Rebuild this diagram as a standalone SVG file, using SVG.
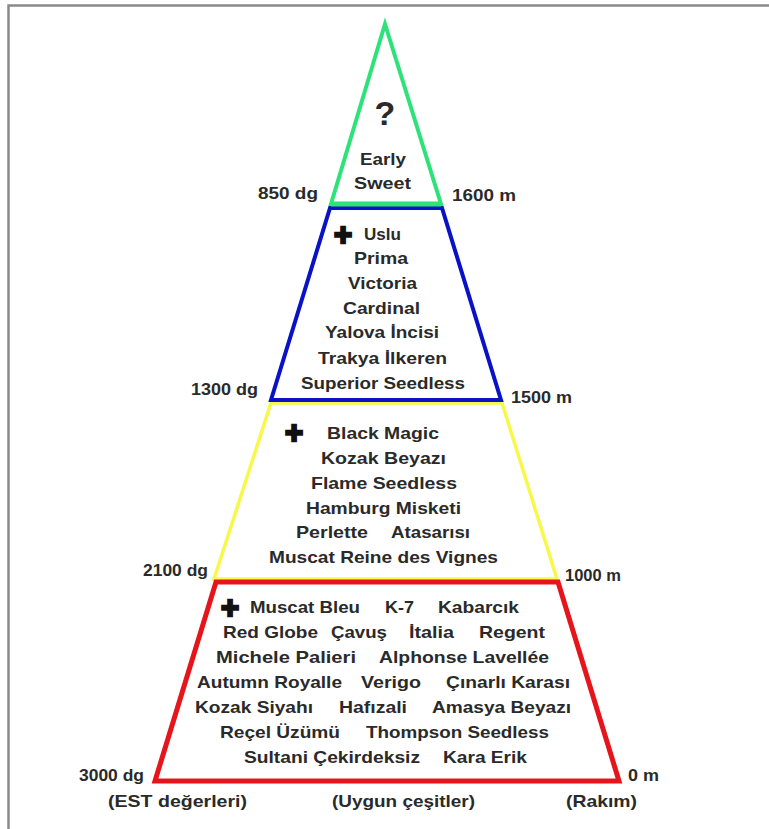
<svg xmlns="http://www.w3.org/2000/svg" width="769" height="829" viewBox="0 0 769 829">
<style>
.t{font-family:"Liberation Sans",Arial,sans-serif;font-weight:bold;font-size:17px;fill:#2a2a2a}
.p{font-family:"Liberation Sans",Arial,sans-serif;font-weight:bold;font-size:31px;fill:#111;stroke:#111;stroke-width:2.4}
.tier{fill:#fff;stroke-linejoin:miter}
</style>
<rect x="0" y="0" width="769" height="829" fill="#fff"/>
<g id="frame"><polyline points="8.5,829 8.5,5.5 769,5.5" fill="none" stroke="#8a8a8a" stroke-width="2.5"/></g>
<g id="connectors"/>

<g id="tier-yellow">
<polygon class="tier" points="271,403 502,403 557,579 214,579" stroke="#f8f84a" stroke-width="3.5"/>
<text class="p" x="285" y="443">+</text>
<text class="t" x="327" y="439" textLength="112" lengthAdjust="spacingAndGlyphs">Black Magic</text>
<text class="t" x="321" y="464" textLength="125" lengthAdjust="spacingAndGlyphs">Kozak Beyazı</text>
<text class="t" x="311" y="489" textLength="146" lengthAdjust="spacingAndGlyphs">Flame Seedless</text>
<text class="t" x="306" y="514" textLength="155" lengthAdjust="spacingAndGlyphs">Hamburg Misketi</text>
<text class="t" x="296" y="538" textLength="72" lengthAdjust="spacingAndGlyphs">Perlette</text>
<text class="t" x="391" y="538" textLength="79" lengthAdjust="spacingAndGlyphs">Atasarısı</text>
<text class="t" x="269" y="563" textLength="229" lengthAdjust="spacingAndGlyphs">Muscat Reine des Vignes</text>
<text class="t" x="143" y="576" textLength="65" lengthAdjust="spacingAndGlyphs">2100 dg</text>
<text class="t" x="565" y="581" textLength="56" lengthAdjust="spacingAndGlyphs">1000 m</text>
</g>

<g id="tier-red">
<polygon class="tier" points="216,582 558,582 619,781 155,781" stroke="#e5151b" stroke-width="5"/>
<text class="p" x="221" y="618">+</text>
<text class="t" x="250" y="613" textLength="110" lengthAdjust="spacingAndGlyphs">Muscat Bleu</text>
<text class="t" x="385" y="613" textLength="29" lengthAdjust="spacingAndGlyphs">K-7</text>
<text class="t" x="438" y="613" textLength="81" lengthAdjust="spacingAndGlyphs">Kabarcık</text>
<text class="t" x="223" y="638" textLength="95" lengthAdjust="spacingAndGlyphs">Red Globe</text>
<text class="t" x="331" y="638" textLength="56" lengthAdjust="spacingAndGlyphs">Çavuş</text>
<text class="t" x="409" y="638" textLength="45" lengthAdjust="spacingAndGlyphs">İtalia</text>
<text class="t" x="479" y="638" textLength="66" lengthAdjust="spacingAndGlyphs">Regent</text>
<text class="t" x="216" y="663" textLength="140" lengthAdjust="spacingAndGlyphs">Michele Palieri</text>
<text class="t" x="379" y="663" textLength="170" lengthAdjust="spacingAndGlyphs">Alphonse Lavellée</text>
<text class="t" x="197" y="688" textLength="145" lengthAdjust="spacingAndGlyphs">Autumn Royalle</text>
<text class="t" x="361" y="688" textLength="60" lengthAdjust="spacingAndGlyphs">Verigo</text>
<text class="t" x="446" y="688" textLength="124" lengthAdjust="spacingAndGlyphs">Çınarlı Karası</text>
<text class="t" x="195" y="713" textLength="118" lengthAdjust="spacingAndGlyphs">Kozak Siyahı</text>
<text class="t" x="339" y="713" textLength="68" lengthAdjust="spacingAndGlyphs">Hafızali</text>
<text class="t" x="432" y="713" textLength="139" lengthAdjust="spacingAndGlyphs">Amasya Beyazı</text>
<text class="t" x="220" y="738" textLength="120" lengthAdjust="spacingAndGlyphs">Reçel Üzümü</text>
<text class="t" x="366" y="738" textLength="183" lengthAdjust="spacingAndGlyphs">Thompson Seedless</text>
<text class="t" x="244" y="763" textLength="176" lengthAdjust="spacingAndGlyphs">Sultani Çekirdeksiz</text>
<text class="t" x="443" y="763" textLength="84" lengthAdjust="spacingAndGlyphs">Kara Erik</text>
<text class="t" x="79" y="781" textLength="65" lengthAdjust="spacingAndGlyphs">3000 dg</text>
<text class="t" x="628" y="781" textLength="31" lengthAdjust="spacingAndGlyphs">0 m</text>
</g>

<g id="tier-blue">
<polygon class="tier" points="330,208 442,208 501,400 271,400" stroke="#0a12c8" stroke-width="4"/>
<text class="p" x="334" y="245">+</text>
<text class="t" x="364" y="240" textLength="37" lengthAdjust="spacingAndGlyphs">Uslu</text>
<text class="t" x="354" y="264" textLength="54" lengthAdjust="spacingAndGlyphs">Prima</text>
<text class="t" x="348" y="289" textLength="69" lengthAdjust="spacingAndGlyphs">Victoria</text>
<text class="t" x="343" y="314" textLength="77" lengthAdjust="spacingAndGlyphs">Cardinal</text>
<text class="t" x="325" y="338" textLength="114" lengthAdjust="spacingAndGlyphs">Yalova İncisi</text>
<text class="t" x="318" y="364" textLength="129" lengthAdjust="spacingAndGlyphs">Trakya İlkeren</text>
<text class="t" x="301" y="389" textLength="164" lengthAdjust="spacingAndGlyphs">Superior Seedless</text>
<text class="t" x="191" y="395" textLength="67" lengthAdjust="spacingAndGlyphs">1300 dg</text>
<text class="t" x="511" y="403" textLength="61" lengthAdjust="spacingAndGlyphs">1500 m</text>
</g>

<g id="tier-green">
<polygon class="tier" points="385,24 441,204 331,204" stroke="#2ee27a" stroke-width="4"/>
<line x1="331" y1="204" x2="441" y2="204" stroke="#2ee27a" stroke-width="5"/>
<text class="t" x="385" y="125" text-anchor="middle" style="font-size:34px">?</text>
<text class="t" x="360" y="165" textLength="46" lengthAdjust="spacingAndGlyphs">Early</text>
<text class="t" x="354" y="189" textLength="57" lengthAdjust="spacingAndGlyphs">Sweet</text>
<text class="t" x="258" y="199" textLength="60" lengthAdjust="spacingAndGlyphs">850 dg</text>
<text class="t" x="452" y="201" textLength="64" lengthAdjust="spacingAndGlyphs">1600 m</text>
</g>

<g id="axis-labels">
<text class="t" x="108" y="807" textLength="139" lengthAdjust="spacingAndGlyphs">(EST değerleri)</text>
<text class="t" x="332" y="807" textLength="143" lengthAdjust="spacingAndGlyphs">(Uygun çeşitler)</text>
<text class="t" x="566" y="807" textLength="71" lengthAdjust="spacingAndGlyphs">(Rakım)</text>
</g>
</svg>
